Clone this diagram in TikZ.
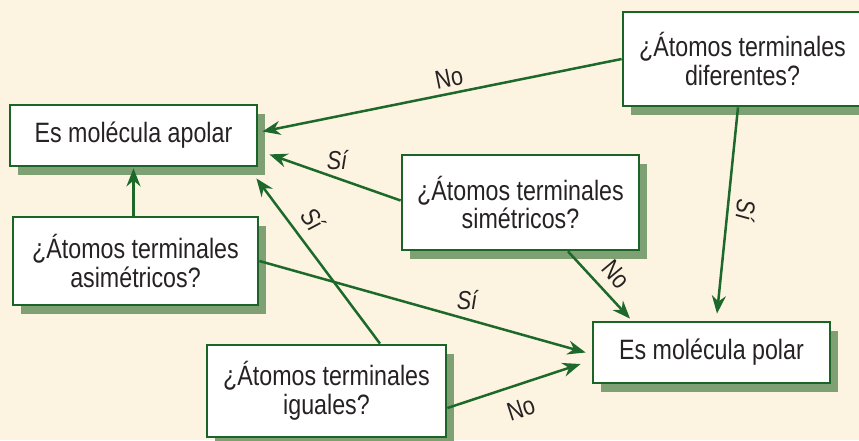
\documentclass[tikz,border=0pt]{standalone}
\usepackage{fontspec}
\setmainfont{Liberation Sans}[FakeStretch=0.83]
\usetikzlibrary{arrows.meta,shadows,calc}
\definecolor{bg}{HTML}{FCF4E1}
\definecolor{frame}{HTML}{1B6427}
\definecolor{arr}{HTML}{1D682B}
\definecolor{shad}{HTML}{7FA073}
\definecolor{txt}{HTML}{262223}
\begin{document}
\begin{tikzpicture}[x=1pt,y=-1pt,
  box/.style={draw=frame, line width=2.8pt, fill=white, text=txt, align=center,
    inner sep=0pt, font=\fontsize{28}{28.5}\selectfont,
    drop shadow={shadow xshift=8pt, shadow yshift=-9pt, fill=shad, opacity=1}},
  conn/.style={draw=arr, line width=2.5pt, -{Stealth[length=18pt,width=14pt]}},
  lab/.style={text=txt, font=\fontsize{26}{26}\selectfont, inner sep=0pt},
  si/.style={text=txt, font=\fontsize{26}{26}\selectfont\itshape, inner sep=0pt}]
\useasboundingbox (0,0) rectangle (859,440);
\clip (0,0) rectangle (859,440);
\fill[bg] (0,0) rectangle (859,440);

% boxes
\node[box, minimum width=247pt, minimum height=61pt] (apolar) at (133.5,135.5) {Es molécula apolar};
\node[box, minimum width=245pt, minimum height=88pt] (asim) at (135.5,261) {¿Átomos terminales\\asimétricos?};
\node[box, minimum width=239pt, minimum height=94pt] (dif) at (742.5,59) {¿Átomos terminales\\diferentes?};
\node[box, minimum width=237pt, minimum height=95pt] (sim) at (520.5,202.5) {¿Átomos terminales\\simétricos?};
\node[box, minimum width=239pt, minimum height=92pt] (igu) at (326.5,391) {¿Átomos terminales\\iguales?};
\node[box, minimum width=237pt, minimum height=61pt] (pol) at (711.5,352.5) {Es molécula polar};

% connectors
\draw[conn] (dif.west) -- ([xshift=4pt,yshift=4pt]apolar.east);
\draw[conn] ([yshift=2pt]sim.west) -- ([xshift=11pt,yshift=13pt]apolar.south east);
\draw[conn] ([xshift=53.5pt]igu.north) -- ([xshift=-2pt,yshift=-11pt]apolar.south east);
\draw[conn] (asim.north -| apolar.south) -- ([yshift=-1pt]apolar.south);
\draw[conn] (asim.east) -- ([xshift=-6pt]pol.west);
\draw[conn] ([yshift=-17pt]igu.east) -- ([xshift=-11pt,yshift=-11.5pt]pol.west);
\draw[conn] ([xshift=47.5pt]sim.south) -- ([xshift=-81.5pt,yshift=2pt]pol.north);
\draw[conn] ([xshift=-4.5pt]dif.south) -- ([xshift=5.5pt,yshift=7pt]pol.north);

% labels
\node[lab, rotate=11.4] (l1) at (449,78) {No};
\node[si] (l2) at (337,160) {Sí};
\node[si, rotate=-53] (l3) at (313,219) {Sí};
\node[si] (l4) at (467,300) {Sí};
\node[lab, rotate=18] (l5) at (521,409) {No};
\node[lab, rotate=-50] (l6) at (616,274) {No};
\node[si, rotate=-96] (l7) at (746,210) {Sí};
\end{tikzpicture}
\end{document}
